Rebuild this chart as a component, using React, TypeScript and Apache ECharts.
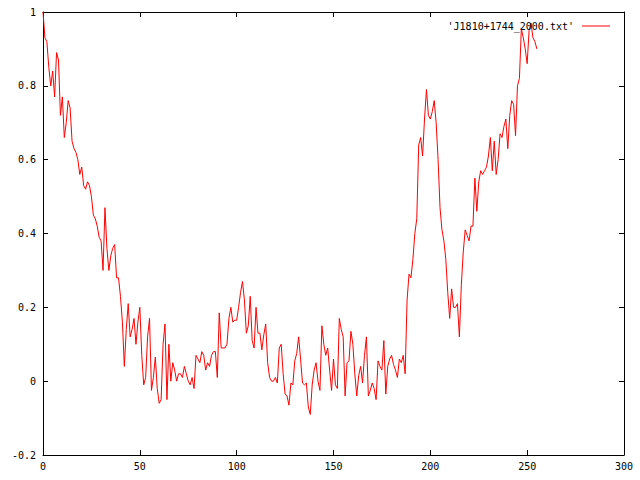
import React, { useEffect, useRef } from "react";
import * as echarts from "echarts";

const seriesName = "'J1810+1744_2000.txt'";

const values: number[] = [
  1.0, 0.93, 0.92, 0.85, 0.8, 0.84, 0.77, 0.89, 0.87, 0.72,
  0.77, 0.66, 0.7, 0.76, 0.74, 0.65, 0.63, 0.62, 0.6, 0.56,
  0.58, 0.53, 0.52, 0.54, 0.53, 0.5, 0.45, 0.44, 0.42, 0.39,
  0.38, 0.3, 0.47, 0.36, 0.3, 0.34, 0.36, 0.37, 0.28, 0.28,
  0.23, 0.16, 0.04, 0.14, 0.21, 0.12, 0.14, 0.17, 0.1, 0.16,
  0.2, 0.07, -0.01, 0.01, 0.12, 0.17, -0.025, 0.01, 0.065, -0.02,
  -0.06, -0.05, 0.1, 0.155, -0.05, 0.1, 0.0, 0.05, 0.03, 0.0,
  0.02, 0.02, 0.01, 0.04, 0.02, 0.0, -0.01, 0.01, -0.02, 0.07,
  0.06, 0.05, 0.08, 0.07, 0.03, 0.05, 0.04, 0.07, 0.08, 0.08,
  0.01, 0.185, 0.09, 0.09, 0.09, 0.1, 0.17, 0.2, 0.16, 0.165,
  0.165, 0.2, 0.24, 0.27, 0.22, 0.13, 0.15, 0.23, 0.11, 0.09,
  0.2, 0.13, 0.13, 0.085, 0.125, 0.155, 0.05, 0.01, 0.0, 0.0,
  0.01, -0.005, 0.09, 0.1, 0.02, -0.035, -0.04, -0.065, -0.005, -0.01,
  0.055, 0.075, 0.12, 0.06, -0.005, -0.01, -0.005, -0.07, -0.09, -0.01,
  0.03, 0.05, 0.0, -0.025, 0.15, 0.1, 0.07, 0.09, 0.03, -0.025,
  0.06, -0.01, -0.02, 0.17, 0.14, 0.12, -0.04, 0.05, 0.055, 0.135,
  0.1, 0.02, -0.04, 0.015, 0.04, -0.005, 0.07, 0.12, -0.04, -0.025,
  -0.005, -0.02, -0.05, 0.055, 0.04, 0.03, 0.11, -0.035, 0.04, 0.06,
  0.07, 0.045, 0.03, 0.01, 0.06, 0.05, 0.07, 0.02, 0.22, 0.29,
  0.28, 0.33, 0.4, 0.44, 0.64, 0.66, 0.61, 0.71, 0.79, 0.72,
  0.71, 0.73, 0.76, 0.7, 0.6, 0.47, 0.41, 0.38, 0.33, 0.24,
  0.17, 0.25, 0.2, 0.2, 0.21, 0.12, 0.26, 0.35, 0.41, 0.395,
  0.38, 0.42, 0.42, 0.55, 0.46, 0.54, 0.57, 0.56, 0.57, 0.58,
  0.61, 0.66, 0.57, 0.65, 0.56, 0.6, 0.67, 0.66, 0.69, 0.71,
  0.63, 0.72, 0.76, 0.75, 0.665, 0.8, 0.82, 0.955, 0.93, 0.9,
  0.86, 0.95, 0.97, 0.93, 0.92, 0.9,
];

const xMin = 0;
const xMax = 300;
const xStep = 50;
const yMin = -0.2;
const yMax = 1;
const yStep = 0.2;

export default function App() {
  const ref = useRef<HTMLDivElement>(null);
  useEffect(() => {
    if (!ref.current) return;
    const chart = echarts.init(ref.current, null, { renderer: "svg" });
    const font = "DejaVu Sans Mono";
    const lineStyle = { color: "#000", width: 1 };
    const baseX = {
      type: "value",
      min: xMin,
      max: xMax,
      interval: xStep,
      splitLine: { show: false },
      axisLine: { show: true, onZero: false, lineStyle },
      axisTick: { show: true, inside: true, length: 5, lineStyle },
    };
    const baseY = {
      type: "value",
      min: yMin,
      max: yMax,
      interval: yStep,
      splitLine: { show: false },
      axisLine: { show: true, onZero: false, lineStyle },
      axisTick: { show: true, inside: true, length: 5, lineStyle },
    };
    chart.setOption({
      animation: false,
      backgroundColor: "#ffffff",
      grid: { left: 43, right: 16, top: 12, bottom: 25, containLabel: false },
      legend: {
        right: 25,
        top: 16,
        align: "right",
        itemWidth: 28,
        itemHeight: 1,
        icon: "rect",
        textStyle: { fontFamily: font, fontSize: 10, color: "#000", padding: [0, 3, 0, 0] },
        data: [{ name: seriesName, icon: "rect" }],
      },
      xAxis: [
        {
          ...baseX,
          position: "bottom",
          axisLabel: { color: "#000", fontFamily: font, fontSize: 10, margin: 6 },
        },
        { ...baseX, position: "top", axisLabel: { show: false } },
      ],
      yAxis: [
        {
          ...baseY,
          position: "left",
          axisLabel: { color: "#000", fontFamily: font, fontSize: 10, margin: 7 },
        },
        { ...baseY, position: "right", axisLabel: { show: false } },
      ],
      series: [
        {
          type: "line",
          name: seriesName,
          xAxisIndex: 0,
          yAxisIndex: 0,
          data: values.map((v, i) => [i, v]),
          showSymbol: false,
          symbol: "none",
          lineStyle: { color: "#ff0000", width: 1 },
          itemStyle: { color: "#ff0000" },
        },
      ],
    });
    return () => chart.dispose();
  }, []);
  return (
    <div
      ref={ref}
      style={{ position: "fixed", left: 0, top: 0, width: 640, height: 480 }}
    />
  );
}
